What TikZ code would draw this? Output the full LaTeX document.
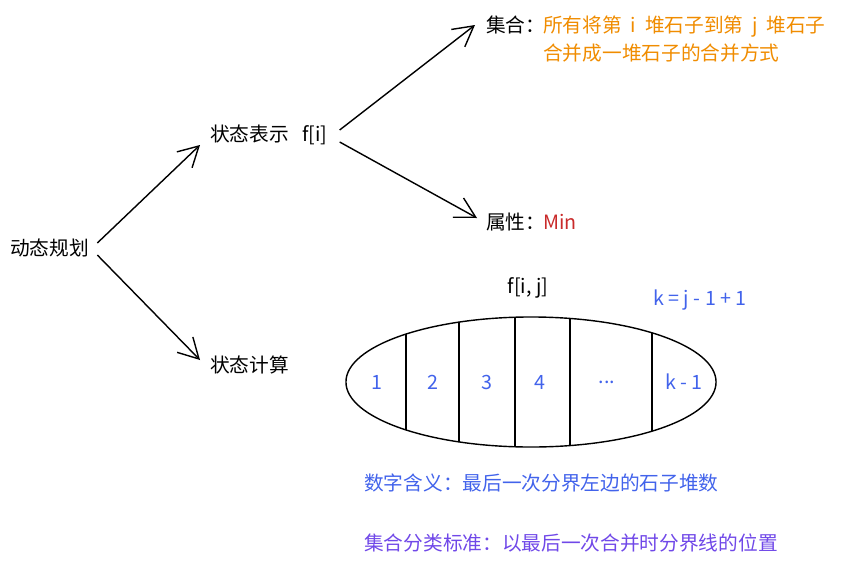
\documentclass[tikz,border=0pt]{standalone}
\usepackage{fontspec}
\setmainfont{Noto Sans CJK SC}
\definecolor{pileorange}{RGB}{240, 140, 0}
\definecolor{minred}{RGB}{201, 42, 42}
\definecolor{cutblue}{RGB}{66, 99, 235}
\definecolor{rulepurple}{RGB}{112, 72, 232}
\usetikzlibrary{arrows.meta, shapes.geometric, positioning}

\tikzset{
  txt/.style={font=\fontsize{14}{20}\selectfont, inner sep=0pt, anchor=west, align=left},
  barb/.style={-{Straight Barb[length=5mm, width=5.5mm]}, line width=1pt}
}

\begin{document}
\begin{tikzpicture}[x=0.025cm, y=-0.025cm]
    \useasboundingbox (0,0) rectangle (843,566);

    % Main tree
    \node[txt] (dp) at (10, 248) {动态规划};
    \node[txt] (rep) at (210, 135) {状态表示\ \ \ f[i]};
    \node[txt] (calc) at (210, 365) {状态计算};

    \node[txt] (set) at (486, 25) {集合：};
    \node[txt, text=pileorange] (setdesc) at (543, 39)
          {所有将第\ \ i\ \ 堆石子到第\ \ j\ \ 堆石子\\合并成一堆石子的合并方式};
    \node[txt] (attr) at (486, 222) {属性：};
    \node[txt, text=minred] (attrval) at (543, 222) {Min};

    % Arrow ends
    \coordinate (dpa) at ([shift={(8,-5)}]dp.east);
    \coordinate (dpb) at ([shift={(8,7)}]dp.east);
    \coordinate (repa) at ([shift={(12,-5)}]rep.east);
    \coordinate (repb) at ([shift={(12,7)}]rep.east);
    \coordinate (repin) at ([shift={(-10,10)}]rep.west);
    \coordinate (calcin) at ([shift={(-10,-5)}]calc.west);
    \coordinate (setin) at ([shift={(-11,0)}]set.west);
    \coordinate (attrin) at ([shift={(-9,-4)}]attr.west);

    % Arrows
    \draw[barb] (dpa) -- (repin);
    \draw[barb] (dpb) -- (calcin);
    \draw[barb] (repa) -- (setin);
    \draw[barb] (repb) -- (attrin);

    % Piles in one heap
    \node[txt, anchor=center] (fij) at (528, 288) {f[i, j]};
    \node[txt, anchor=center, text=cutblue] (kform) at (700, 300) {k = j - 1 + 1};
    \node[draw, ellipse, line width=1pt, minimum width=9.25cm, minimum height=3.25cm,
          inner sep=0pt] (heap) at (531, 382) {};
    \begin{scope}
      \clip (heap.center) ellipse [x radius=4.625cm, y radius=1.625cm];
      \foreach \x in {406, 459, 515, 570, 652}
        \draw[line width=1pt] (\x, 300) -- (\x, 460);
    \end{scope}
    \node[txt, anchor=center, text=cutblue] (p1) at (377, 382) {1};
    \node[txt, anchor=center, text=cutblue] (p2) at (433, 382) {2};
    \node[txt, anchor=center, text=cutblue] (p3) at (487, 382) {3};
    \node[txt, anchor=center, text=cutblue] (p4) at (540, 382) {4};
    \node[txt, anchor=center, text=cutblue] (pdots) at (607, 382) {...};
    \node[txt, anchor=center, text=cutblue] (pk) at (684, 382) {k - 1};

    % Notes
    \node[txt, text=cutblue] (mean) at (364, 483) {数字含义：最后一次分界左边的石子堆数};
    \node[txt, text=rulepurple] (rule) at (364, 543) {集合分类标准：以最后一次合并时分界线的位置};
\end{tikzpicture}
\end{document}
